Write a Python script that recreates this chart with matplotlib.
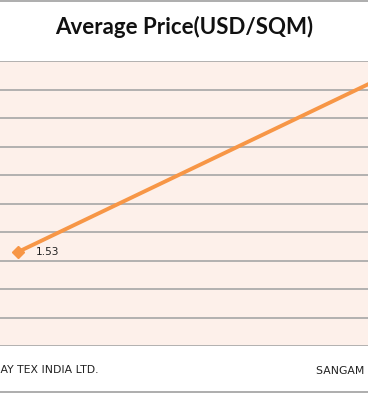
import matplotlib.pyplot as plt
from matplotlib.patches import Rectangle

# data
companies = ["SHRI BOMBAY TEX INDIA LTD.", "SANGAM (INDIA) LTD."]
avg_price = [1.53, 2.13]
y_ticks = [1.2, 1.3, 1.4, 1.5, 1.6, 1.7, 1.8, 1.9, 2.0, 2.1, 2.2]

ORANGE = "#F79646"
GRID = "#A6A6A6"

fig = plt.figure(figsize=(3.68, 3.94), dpi=100)
fig.patch.set_facecolor("white")

# plot area is wider than the (cropped) picture
ax = fig.add_axes([-0.3, 48 / 394, 1.6, 285 / 394])
ax.set_facecolor("#FDF0EA")

x = list(range(len(companies)))
ax.plot(x, avg_price, color=ORANGE, lw=2.8, marker="D", markersize=6.5,
        solid_capstyle="butt", zorder=3)
for xi, v in zip(x, avg_price):
    ax.annotate(f"{v:.2f}", (xi, v), xytext=(13, 0), textcoords="offset points",
                fontsize=7.7, va="center", ha="left", color="#222222")

ax.set_xlim(-0.3597, 1.2896)
ax.set_ylim(1.2, 2.2)
ax.set_yticks(y_ticks)
ax.set_xticks(x)
ax.set_xticklabels(companies, fontsize=7.8, color="#222222", family="DejaVu Sans")
ax.tick_params(axis="x", length=0, pad=14)
ax.tick_params(axis="y", length=0, labelleft=False)
ax.grid(axis="y", color=GRID, lw=1.2)
ax.set_axisbelow(True)
for s in ax.spines.values():
    s.set_visible(False)

fig.text(0.5, 1 - 27 / 394, "Average Price(USD/SQM)", ha="center", va="center",
         fontsize=16, fontweight="bold", family="Lato", color="#111111")

# chart border
fig.add_artist(Rectangle((-0.05, 2 / 394), 1.1, 391 / 394, transform=fig.transFigure,
                         fill=False, edgecolor="#A0A0A0", lw=1.2))

fig.savefig("out.png", dpi=100)
